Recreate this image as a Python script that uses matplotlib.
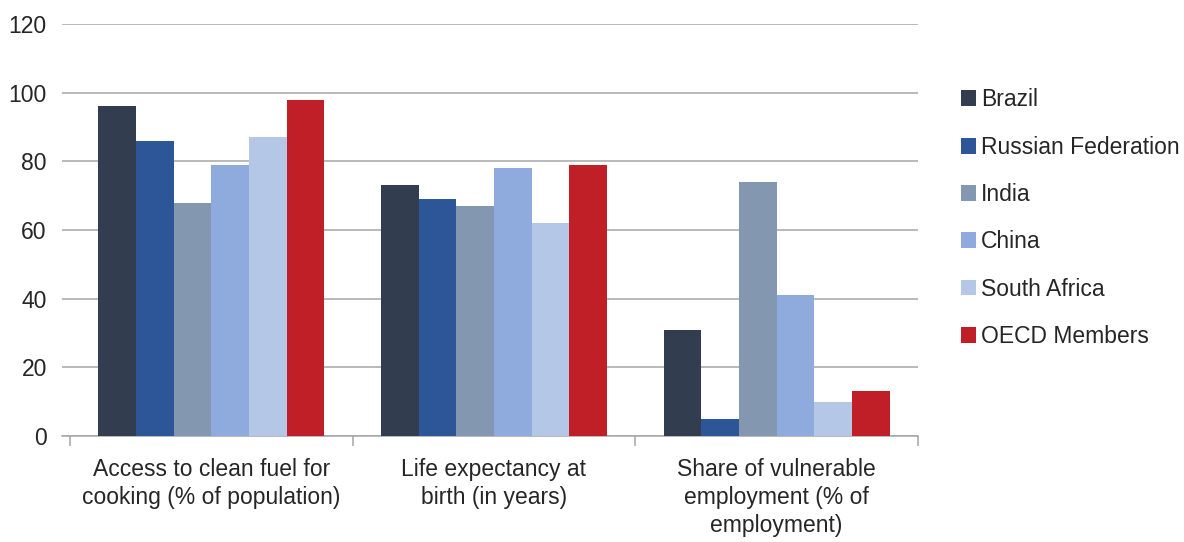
import numpy as np
import matplotlib
matplotlib.use('Agg')
from matplotlib import pyplot as plt
from matplotlib.patches import Patch

plt.rcParams['font.family'] = ['Liberation Sans', 'DejaVu Sans']

categories = ['Access to clean fuel for\ncooking (% of population)',
              'Life expectancy at\nbirth (in years)',
              'Share of vulnerable\nemployment (% of\nemployment)']
countries = ['Brazil', 'Russian Federation', 'India', 'China', 'South Africa', 'OECD Members']
brazil = [96, 73, 31]
russia = [86, 69, 5]
india = [68, 67, 74]
china = [79, 78, 41]
south_africa = [87, 62, 10]
oecd = [98, 79, 13]
series = [brazil, russia, india, china, south_africa, oecd]
colors = ['#323E4F', '#2C5697', '#8497B0', '#8FAADC', '#B4C7E7', '#C01F27']

fs = 16.5
txt = '#262626'

fig = plt.figure(figsize=(11.84, 5.42), dpi=100)
ax = fig.add_axes([0.0524, 0.1956, 0.7229, 0.7601])

x = np.arange(len(categories))
w = 0.1333
for i, (vals, c) in enumerate(zip(series, colors)):
    ax.bar(x + (i - 2.5) * w, vals, w, color=c, zorder=3)

ax.set_xlim(-0.528, 2.5)
ax.set_ylim(0, 120)
ax.set_yticks(range(0, 121, 20))
ax.yaxis.grid(True, color='#A6A6A6', linewidth=1.1, zorder=0)
for s in ['top', 'right', 'left']:
    ax.spines[s].set_visible(False)
ax.spines['bottom'].set_color('#A6A6A6')
ax.spines['bottom'].set_linewidth(1.1)
ax.tick_params(axis='y', length=0, labelsize=fs, labelcolor=txt, pad=11)

ax.set_xticks([-0.5, 0.5, 1.5, 2.5])
ax.set_xticklabels([])
ax.tick_params(axis='x', which='major', length=7, color='#A6A6A6', width=1.1)
ax.set_xticks(x, minor=True)
ax.set_xticklabels(categories, minor=True, fontsize=fs, color=txt, linespacing=1.28)
ax.tick_params(axis='x', which='minor', length=0, pad=16)

handles = [Patch(facecolor=c, label=n) for n, c in zip(countries, colors)]
fig.legend(handles=handles, loc='upper left', bbox_to_anchor=(0.794, 0.875), frameon=False,
           fontsize=fs, labelcolor=txt, handlelength=0.68, handleheight=0.68,
           handletextpad=0.22, labelspacing=1.06)

fig.savefig('out.png', dpi=100)
